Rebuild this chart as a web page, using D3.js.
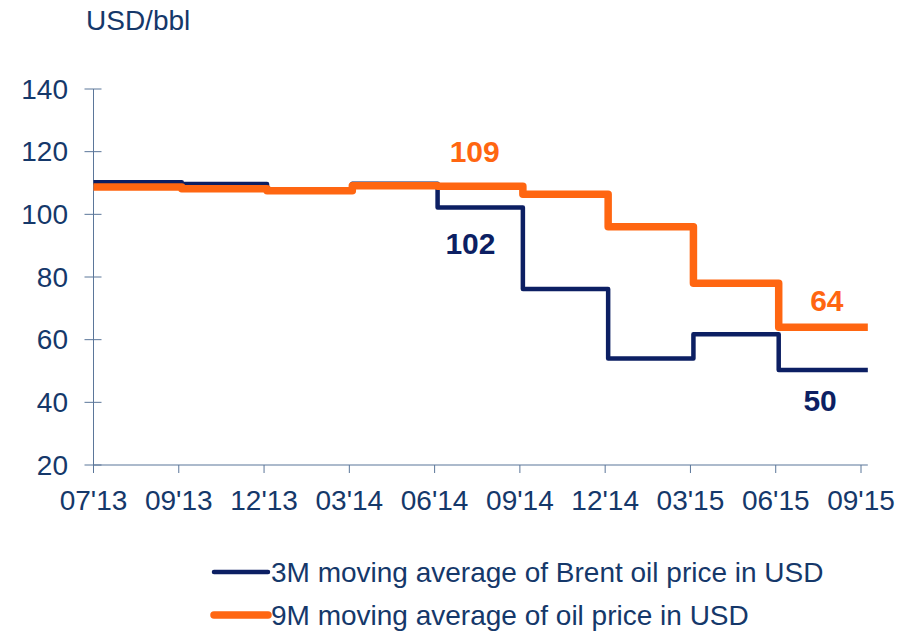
<!DOCTYPE html>
<html>
<head>
<meta charset="utf-8">
<script src="https://cdn.jsdelivr.net/npm/d3@7"></script>
<style>
  html, body { margin: 0; padding: 0; background: #fff; }
  svg { display: block; font-family: "Liberation Sans", Arial, sans-serif; }
</style>
</head>
<body>
<div id="chart"></div>
<script>
// Step series: one value per period between ticks, last one runs past 09'15
const X_LABELS = ["07'13", "09'13", "12'13", "03'14", "06'14", "09'14", "12'14", "03'15", "06'15", "09'15"];
const Y_TICKS = [20, 40, 60, 80, 100, 120, 140];
const BRENT_3M = [110.2, 109.7, 108, 109.8, 102.2, 76.2, 54, 61.7, 50.3];
const OIL_9M = [108.7, 108.2, 107.5, 109.1, 109, 106.4, 96, 78, 64];
const SERIES_NAMES = ['3M moving average of Brent oil price in USD', '9M moving average of oil price in USD'];
const CALLOUTS = [
  { series: 1, period: 4, text: '109' },
  { series: 0, period: 4, text: '102' },
  { series: 1, period: 8, text: '64' },
  { series: 0, period: 8, text: '50' },
];

const W = 911, H = 634;
const NAVY = '#0c1f63';
const ORANGE = '#ff6611';
const TEXT = '#15386a';
const AXIS = '#5b7699';
const STEP_LAG = 0.035;   // steps sit a hair to the right of each tick
const END = 9.08;         // axis runs a little past the last tick

const x = d3.scaleLinear().domain([0, 9]).range([93.5, 861]);
const y = d3.scaleLinear().domain([20, 140]).range([465, 89]);

const svg = d3.select('#chart').append('svg')
  .attr('width', W)
  .attr('height', H);

// Unit label
svg.append('text')
  .attr('x', 86)
  .attr('y', 30)
  .attr('fill', TEXT)
  .attr('font-size', '28px')
  .text('USD/bbl');

// Y axis
const yAxis = svg.append('g');
yAxis.append('line')
  .attr('x1', x(0)).attr('x2', x(0))
  .attr('y1', y(140)).attr('y2', y(20))
  .attr('stroke', AXIS).attr('stroke-width', 1);
yAxis.selectAll('.ytick')
  .data(Y_TICKS)
  .join('line')
  .attr('class', 'ytick')
  .attr('x1', x(0) - 9).attr('x2', x(0) + 8)
  .attr('y1', d => y(d)).attr('y2', d => y(d))
  .attr('stroke', AXIS);
yAxis.selectAll('.ylabel')
  .data(Y_TICKS)
  .join('text')
  .attr('class', 'ylabel')
  .attr('x', 68)
  .attr('y', d => y(d))
  .attr('dy', '0.35em')
  .attr('text-anchor', 'end')
  .attr('fill', TEXT)
  .attr('font-size', '28px')
  .text(d => d);

// X axis
const xAxis = svg.append('g');
xAxis.append('line')
  .attr('x1', x(0)).attr('x2', x(END))
  .attr('y1', y(20)).attr('y2', y(20))
  .attr('stroke', AXIS).attr('stroke-width', 1.2);
xAxis.selectAll('.xtick')
  .data(X_LABELS)
  .join('line')
  .attr('class', 'xtick')
  .attr('x1', (d, i) => x(i)).attr('x2', (d, i) => x(i))
  .attr('y1', y(20)).attr('y2', y(20) + 8)
  .attr('stroke', AXIS);
xAxis.selectAll('.xlabel')
  .data(X_LABELS)
  .join('text')
  .attr('class', 'xlabel')
  .attr('x', (d, i) => x(i))
  .attr('y', y(20) + 45)
  .attr('text-anchor', 'middle')
  .attr('fill', TEXT)
  .attr('font-size', '28px')
  .text(d => d);

// Step lines
function stepPoints(values) {
  const pts = values.map((v, i) => [i === 0 ? 0 : i + STEP_LAG, v]);
  pts.push([END, values[values.length - 1]]);
  return pts;
}
const line = d3.line()
  .x(d => x(d[0]))
  .y(d => y(d[1]))
  .curve(d3.curveStepAfter);

const series = [
  { values: BRENT_3M, color: NAVY, width: 4.5 },
  { values: OIL_9M, color: ORANGE, width: 7.5 },
];

svg.append('g').selectAll('path')
  .data(series)
  .join('path')
  .attr('d', d => line(stepPoints(d.values)))
  .attr('fill', 'none')
  .attr('stroke', d => d.color)
  .attr('stroke-width', d => d.width)
  .attr('stroke-linejoin', 'round')
  .attr('stroke-linecap', 'butt');

// Value callouts
const calloutOffset = { '109': [0.47, -24], '102': [0.42, 47], '64': [0.6, -16], '50': [0.52, 41] };
svg.append('g').selectAll('text')
  .data(CALLOUTS)
  .join('text')
  .attr('x', d => x(d.period + calloutOffset[d.text][0]))
  .attr('y', d => y(series[d.series].values[d.period]) + calloutOffset[d.text][1])
  .attr('text-anchor', 'middle')
  .attr('fill', d => series[d.series].color)
  .attr('font-size', '30px')
  .attr('font-weight', 'bold')
  .text(d => d.text);

// Legend
const legend = svg.append('g')
  .selectAll('g')
  .data(series)
  .join('g')
  .attr('transform', (d, i) => `translate(214,${572 + i * 43})`);
legend.append('line')
  .attr('x1', 0).attr('x2', 54)
  .attr('stroke', d => d.color)
  .attr('stroke-width', d => d.width)
  .attr('stroke-linecap', 'round');
legend.append('text')
  .attr('x', 57)
  .attr('dy', '0.35em')
  .attr('fill', TEXT)
  .attr('font-size', '28px')
  .text((d, i) => SERIES_NAMES[i]);
</script>
</body>
</html>
